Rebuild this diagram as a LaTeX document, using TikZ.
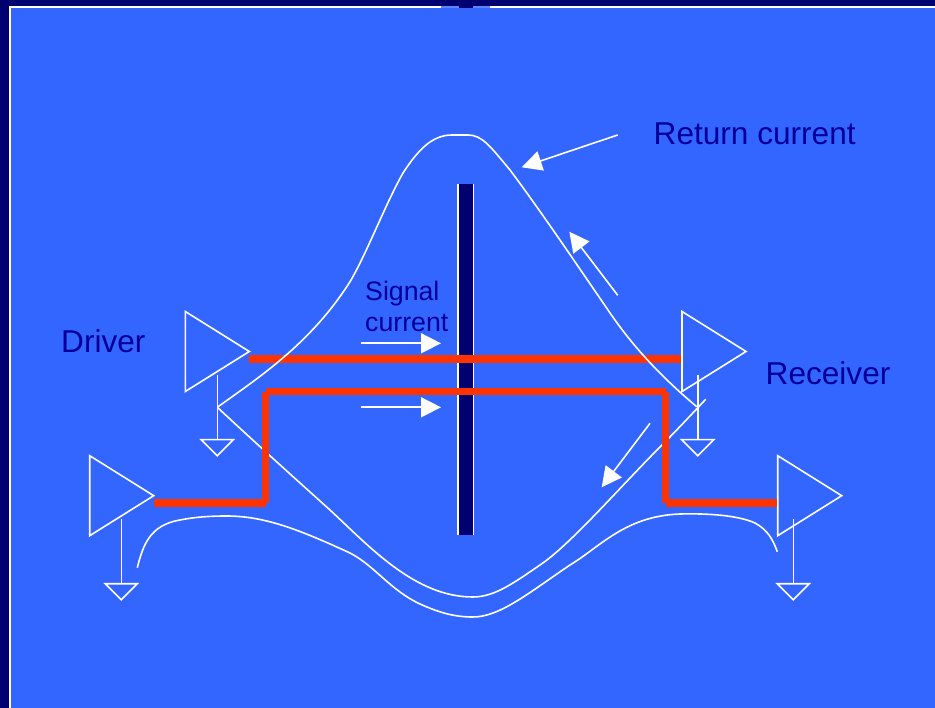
\documentclass[tikz,border=0pt]{standalone}
\usepackage{fontspec}
\setmainfont{Liberation Sans}
\usetikzlibrary{arrows.meta,shapes.geometric}
\definecolor{navy}{HTML}{000070}
\definecolor{panel}{HTML}{3366FF}
\definecolor{ink}{HTML}{000099}
\definecolor{wirered}{HTML}{FF3300}

\begin{document}
\begin{tikzpicture}[
    x=1pt,
    y=-1pt,
    line join=miter,
    amp/.style={
        draw=white,
        line width=1.6pt,
        shape=isosceles triangle,
        isosceles triangle stretches,
        inner sep=0pt,
        outer sep=0pt,
        minimum width=80pt,
        minimum height=64pt,
        anchor=apex
    },
    gnd/.style={
        draw=white,
        line width=1.6pt,
        shape=isosceles triangle,
        isosceles triangle stretches,
        shape border rotate=-90,
        inner sep=0pt,
        outer sep=0pt,
        minimum width=32pt,
        minimum height=16pt,
        anchor=apex
    },
    stem/.style={white,line width=1.6pt},
    curve/.style={white,line width=1.6pt},
    wire/.style={wirered,line width=7.6pt},
    flow/.style={-{Triangle[length=20pt,width=20pt]},white,line width=1.6pt},
    label/.style={text=ink,font=\fontsize{31.6}{36}\selectfont,inner sep=0pt,anchor=base west},
    small/.style={text=ink,font=\fontsize{26.7}{31}\selectfont,inner sep=0pt,anchor=north west,align=left}
]
\useasboundingbox (0,0) rectangle (935,708);

% Ground and panel.
\fill[navy] (0,0) rectangle (935,708);
\fill[white] (8.5,6) rectangle (935,708);
\fill[panel] (10.5,8.5) rectangle (935,708);
\fill[panel!80!white] (441,6) rectangle (490,8.5);
\fill[navy] (458.5,0) rectangle (472.5,8.5);

% Shield.
\fill[white] (457.3,184) rectangle (474,535);
\fill[navy] (458.5,184) rectangle (472.8,535);

% Amplifiers.
\node[amp] (ampA) at (249.3,351.5) {};
\node[amp] (ampB) at (153.7,495.7) {};
\node[amp] (ampC) at (746,351.5) {};
\node[amp] (ampD) at (841.7,495.7) {};

\node[gnd] (gndA) at (217.3,455.7) {};
\node[gnd] (gndB) at (121.3,599.7) {};
\node[gnd] (gndC) at (697.7,455.7) {};
\node[gnd] (gndD) at (793.3,599.7) {};

\coordinate (stemA) at (217.3,375);
\coordinate (stemB) at (121.3,519);
\coordinate (stemC) at (697.7,375);
\coordinate (stemD) at (793.3,519);

\draw[stem] (stemA) -- (gndA.north);
\draw[stem] (stemB) -- (gndB.north);
\draw[stem] (stemC) -- (gndC.north);
\draw[stem] (stemD) -- (gndD.north);

% Upper wire.
\coordinate (upL) at (249.3,359.3);
\coordinate (upR) at (680.5,359.3);
\draw[wire] (upL) -- (upR);

% Return paths.
\draw[curve] (217.3,407.3) .. controls (255,380) and (310,345) .. (350,281.7)
    .. controls (366,255) and (385,205) .. (403,173)
    .. controls (418,150) and (432,135) .. (452,135) -- (468,135)
    .. controls (482,135) and (490,146) .. (510,170)
    .. controls (540,210) and (575,262) .. (608,310)
    .. controls (635,350) and (665,380) .. (696.7,406.7);
\draw[curve] (217.3,407.3) .. controls (260,447) and (300,483) .. (330,510)
    .. controls (370,547) and (415,597) .. (473,597)
    .. controls (495,597) and (515,582) .. (540,565)
    .. controls (570,545) and (620,487) .. (660,447)
    .. controls (677,430) and (690,416) .. (705.7,399.3);
\draw[curve] (137.3,567.7) .. controls (143,545) and (150,525) .. (180,520)
    .. controls (195,517) and (210,516) .. (226.7,516)
    .. controls (265,516) and (300,530) .. (350,553)
    .. controls (375,566) and (390,590) .. (420,604)
    .. controls (440,613) and (455,617) .. (473,617)
    .. controls (500,617) and (530,592) .. (570,565)
    .. controls (600,547) and (625,516) .. (680,514)
    .. controls (700,513.5) and (735,514) .. (755,523)
    .. controls (768,530) and (773,540) .. (777.3,551.7);

% Lower wire.
\coordinate (loA) at (153.5,503.3);
\coordinate (loB) at (265.7,503.3);
\coordinate (loC) at (265.5,391.7);
\coordinate (loD) at (265.5,502.8);
\coordinate (loE) at (265.7,391.5);
\coordinate (loF) at (665.7,391.5);
\coordinate (loG) at (665.5,391.7);
\coordinate (loH) at (665.5,502.8);
\coordinate (loI) at (665.7,503.3);
\coordinate (loJ) at (776.5,503.3);
\draw[wire] (loA) -- (loB);
\draw[wire] (loC) -- (loD);
\draw[wire] (loE) -- (loF);
\draw[wire] (loG) -- (loH);
\draw[wire] (loI) -- (loJ);

% Arrows.
\coordinate (retTail) at (617.7,135);
\coordinate (retTip) at (521.7,167.3);
\coordinate (upTail) at (617.7,295.3);
\coordinate (upTip) at (569.3,231.7);
\coordinate (downTail) at (650,423.3);
\coordinate (downTip) at (601.7,487.3);
\coordinate (sigATail) at (361,343.3);
\coordinate (sigATip) at (441,343.3);
\coordinate (sigBTail) at (361,407.3);
\coordinate (sigBTip) at (441,407.3);
\draw[flow] (retTail) -- (retTip);
\draw[flow] (upTail) -- (upTip);
\draw[flow] (downTail) -- (downTip);
\draw[flow] (sigATail) -- (sigATip);
\draw[flow] (sigBTail) -- (sigBTip);

% Labels.
\node[label] (ret) at (653.5,145) {Return current};
\node[label] (drv) at (61,353) {Driver};
\node[label] (rcv) at (765.5,385) {Receiver};
\node[small] (sig) at (365,281) {Signal\\current};
\end{tikzpicture}
\end{document}
